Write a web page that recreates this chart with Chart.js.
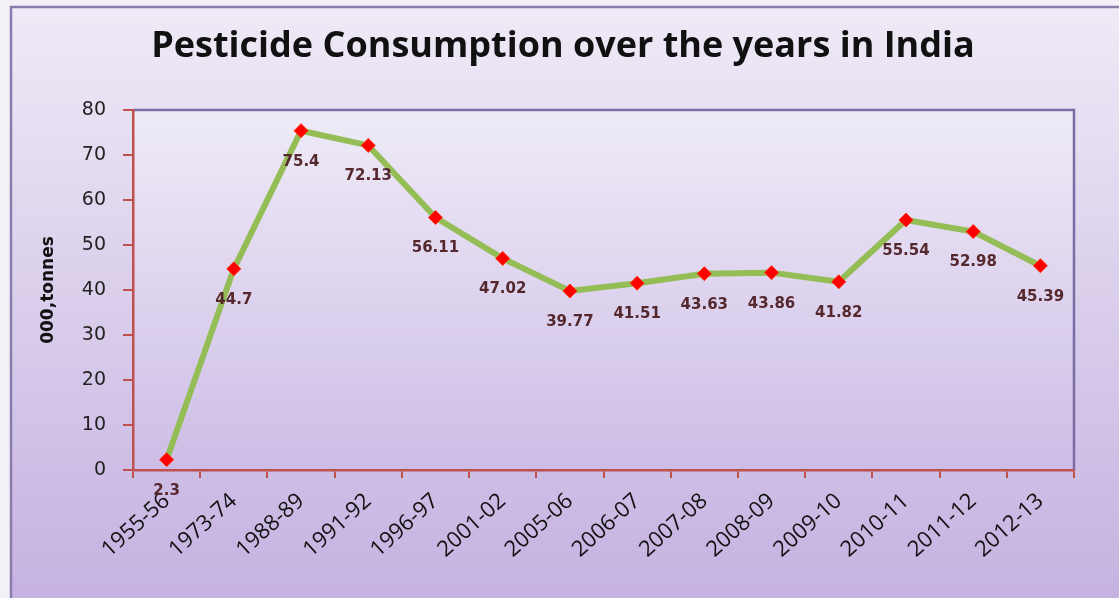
<!DOCTYPE html>
<html>
<head>
<meta charset="utf-8">
<script src="https://cdn.jsdelivr.net/npm/chart.js@4"></script>
<style>
  html, body { margin: 0; padding: 0; background: #d9cdea; }
  #wrap { width: 1119px; height: 598px; position: relative; }
</style>
</head>
<body>
<div id="wrap"><canvas id="pesticide-chart" width="1119" height="598"></canvas></div>
<script>
// 年度
const years = ['1955-56', '1973-74', '1988-89', '1991-92', '1996-97', '2001-02', '2005-06',
    '2006-07', '2007-08', '2008-09', '2009-10', '2010-11', '2011-12', '2012-13'];
// 用量 (000 tonnes)
const consumption = [2.3, 44.7, 75.4, 72.13, 56.11, 47.02, 39.77, 41.51, 43.63, 43.86, 41.82, 55.54, 52.98, 45.39];
const yTicks = [0, 10, 20, 30, 40, 50, 60, 70, 80];
const chartTitle = 'Pesticide Consumption over the years in India';

// 背景漸層 + 框線 + 標題
const backdrop = {
    id: 'backdrop',
    beforeDraw(chart) {
        const { ctx, width, height, chartArea: a } = chart;
        ctx.save();
        ctx.fillStyle = '#f3f0f7';
        ctx.fillRect(0, 0, width, height);
        let g = ctx.createLinearGradient(0, 7, 0, height);
        g.addColorStop(0, '#efeaf6');
        g.addColorStop(1, '#c5b2e1');
        ctx.fillStyle = g;
        ctx.fillRect(11, 7, width, height);
        ctx.strokeStyle = '#8a7dae';
        ctx.lineWidth = 2.5;
        ctx.strokeRect(11, 7, width + 10, height + 10);

        g = ctx.createLinearGradient(0, a.top, 0, a.bottom);
        g.addColorStop(0, '#efebf7');
        g.addColorStop(1, '#cdbde6');
        ctx.fillStyle = g;
        ctx.fillRect(a.left, a.top, a.right - a.left, a.bottom - a.top);
        ctx.strokeStyle = '#7a6da5';
        ctx.lineWidth = 2.5;
        ctx.beginPath();
        ctx.moveTo(a.left, a.top);
        ctx.lineTo(a.right, a.top);
        ctx.lineTo(a.right, a.bottom);
        ctx.stroke();

        ctx.font = 'bold 36px "Open Sans", sans-serif';
        ctx.fillStyle = '#111';
        ctx.textAlign = 'center';
        ctx.textBaseline = 'middle';
        ctx.fillText(chartTitle, 563, 47);
        ctx.restore();
    }
};

// 數值標籤
const valueLabels = {
    id: 'valueLabels',
    afterDatasetsDraw(chart) {
        const { ctx } = chart;
        const meta = chart.getDatasetMeta(0);
        ctx.save();
        ctx.font = 'bold 15px "DejaVu Sans", sans-serif';
        ctx.fillStyle = '#55282e';
        ctx.textAlign = 'center';
        ctx.textBaseline = 'middle';
        meta.data.forEach((pt, i) => {
            ctx.fillText(String(consumption[i]), pt.x, pt.y + 31);
        });
        ctx.restore();
    }
};

function initChart() {
    const ctx = document.getElementById('pesticide-chart').getContext('2d');
    new Chart(ctx, {
        type: 'line',
        data: {
            labels: years,
            datasets: [{
                label: '000,tonnes',
                data: consumption,
                borderColor: '#94bd55',
                borderWidth: 6,
                tension: 0,
                pointStyle: 'rectRot',
                pointRadius: 7,
                pointHoverRadius: 7,
                pointBackgroundColor: '#ff0000',
                pointBorderColor: '#ff3010',
                pointBorderWidth: 1
            }]
        },
        options: {
            responsive: false,
            animation: false,
            layout: { padding: { left: 0, right: 45, top: 110, bottom: 0 } },
            plugins: {
                legend: { display: false },
                tooltip: { enabled: false },
                title: { display: false }
            },
            scales: {
                x: {
                    offset: true,
                    afterFit(axis) { axis.height = 128; },
                    grid: { drawOnChartArea: false, drawTicks: true, tickLength: 8, color: '#c0504d', lineWidth: 2, offset: true },
                    border: { color: '#c0504d', width: 2.5 },
                    ticks: {
                        color: '#111',
                        font: { family: '"Open Sans", sans-serif', size: 22 },
                        maxRotation: 42,
                        minRotation: 42,
                        autoSkip: false,
                        padding: 10
                    }
                },
                y: {
                    min: 0,
                    max: 80,
                    afterFit(axis) { axis.width = 133; },
                    afterBuildTicks(axis) {
                        axis.ticks = yTicks.map(v => ({ value: v }));
                    },
                    grid: { drawOnChartArea: false, drawTicks: true, tickLength: 10, color: '#c0504d', lineWidth: 2 },
                    border: { color: '#c0504d', width: 2.5 },
                    ticks: {
                        color: '#222',
                        font: { family: '"DejaVu Sans", sans-serif', size: 19 },
                        padding: 17
                    },
                    title: {
                        display: true,
                        text: '000,tonnes',
                        color: '#111',
                        font: { family: '"DejaVu Sans", sans-serif', size: 17, weight: 'bold' },
                        padding: { top: 38, bottom: 0 }
                    }
                }
            }
        },
        plugins: [backdrop, valueLabels]
    });
}

document.addEventListener('DOMContentLoaded', () => {
    initChart();
});
</script>
</body>
</html>
